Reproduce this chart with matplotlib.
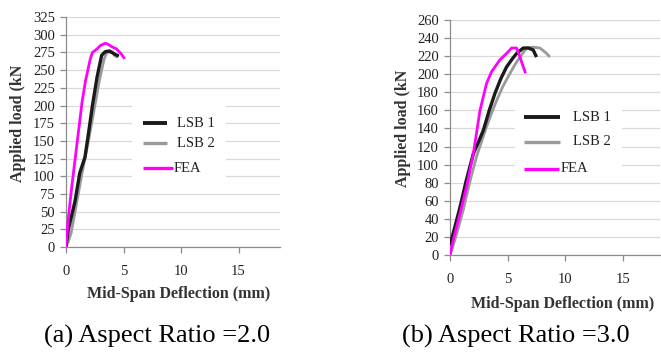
import numpy as np
import matplotlib.pyplot as plt
from matplotlib.patches import Rectangle

plt.rcParams['font.family'] = ['Liberation Serif', 'DejaVu Serif']

# (a) Aspect ratio 2.0
a_lsb1_x = [0.0, 0.2, 0.5, 0.8, 1.2, 1.65, 1.95, 2.3, 2.7, 3.1, 3.4, 3.7, 4.0, 4.3, 4.6]
a_lsb1_y = [0, 25, 45, 66, 105, 127, 160, 200, 240, 271, 276, 277, 275, 272, 270]
a_lsb2_x = [0.0, 0.2, 0.45, 0.9, 1.4, 1.9, 2.4, 2.9, 3.3, 3.5, 3.8, 4.0, 4.2, 4.5]
a_lsb2_y = [0, 8, 20, 60, 105, 145, 190, 235, 265, 273, 278, 276, 271, 268]
a_fea_x = [0.0, 0.2, 0.5, 0.8, 1.1, 1.4, 1.7, 2.1, 2.3, 2.7, 3.0, 3.4, 3.6, 4.0, 4.4, 4.8, 5.1]
a_fea_y = [0, 40, 85, 125, 165, 205, 235, 265, 275, 280, 285, 288, 287, 283, 280, 273, 266]

# (b) Aspect ratio 3.0
b_lsb1_x = [0.0, 0.4, 0.87, 1.4, 2.02, 2.5, 2.89, 3.4, 3.9, 4.4, 4.9, 5.4, 5.77, 6.35, 6.78, 7.2, 7.5]
b_lsb1_y = [11, 30, 53, 82, 112, 126, 138, 160, 179, 195, 208, 217, 223, 229, 229, 227, 219]
b_lsb2_x = [0.0, 0.5, 1.15, 1.7, 2.3, 2.8, 3.17, 3.6, 4.04, 4.6, 5.2, 5.6, 6.06, 6.64, 7.2, 7.79, 8.37, 8.66]
b_lsb2_y = [0, 20, 50, 80, 109, 128, 142, 157, 171, 187, 201, 210, 219, 229, 230, 229, 223, 219]
b_fea_x = [0.0, 0.29, 0.87, 1.44, 2.02, 2.6, 3.17, 3.61, 4.33, 4.9, 5.34, 5.77, 6.06, 6.3, 6.55]
b_fea_y = [0, 17, 46, 76, 112, 160, 190, 203, 216, 223, 229, 229, 219, 210, 201]

series_names = ['LSB 1', 'LSB 2', 'FEA']
colors = ['#1a1a1a', '#9a9a9a', '#ff00ff']
widths = [2.4, 2.0, 2.0]

fig = plt.figure(figsize=(6.61, 3.54), dpi=100)
ax1 = fig.add_axes([0.0998, 0.302, 0.3238, 0.6497])
ax2 = fig.add_axes([0.6808, 0.2797, 0.3177, 0.6638])

# legend layout in axes fractions: box, line spans, text x, row y
legs = [
    dict(box=(0.31, 0.29, 0.44, 0.36),
         lines=[(0.36, 0.472), (0.36, 0.472), (0.36, 0.50)],
         tx=[0.519, 0.519, 0.505], ty=[0.539, 0.452, 0.343]),
    dict(box=(0.31, 0.32, 0.51, 0.36),
         lines=[(0.352, 0.524), (0.352, 0.524), (0.352, 0.52)],
         tx=[0.586, 0.586, 0.529], ty=[0.587, 0.481, 0.366]),
]

panels = [
    (ax1, [(a_lsb1_x, a_lsb1_y), (a_lsb2_x, a_lsb2_y), (a_fea_x, a_fea_y)], 325, 25, 18.6,
     (-0.187, 0.54), (0.526, -0.17), legs[0]),
    (ax2, [(b_lsb1_x, b_lsb1_y), (b_lsb2_x, b_lsb2_y), (b_fea_x, b_fea_y)], 260, 20, 18.2,
     (-0.186, 0.54), (0.538, -0.174), legs[1]),
]

for ax, data, ymax, ystep, xmax, ylpos, xlpos, lg in panels:
    for (x, y), c, w, z in zip(data, colors, widths, [4, 3, 5]):
        ax.plot(x, y, color=c, lw=w, zorder=z, solid_capstyle='butt')
    ax.set_xlim(0, xmax)
    ax.set_ylim(0, ymax)
    ax.set_xticks([0, 5, 10, 15])
    ax.set_yticks(np.arange(0, ymax + 1, ystep))
    ax.grid(axis='y', color='#d9d9d9', lw=0.9)
    ax.set_axisbelow(True)
    for s in ['top', 'right']:
        ax.spines[s].set_visible(False)
    for s in ['left', 'bottom']:
        ax.spines[s].set_color('#8c8c8c')
        ax.spines[s].set_linewidth(0.9)
    ax.tick_params(colors='#8c8c8c', length=4, width=0.9, labelsize=10.5,
                   labelcolor='#222222')
    ax.tick_params(axis='y', pad=4)
    ax.tick_params(axis='x', pad=9)
    ax.set_ylabel('Applied load (kN', fontsize=11.5, fontweight='bold', color='#333333')
    ax.set_xlabel('Mid-Span Deflection (mm)', fontsize=11.5, fontweight='bold', color='#333333')
    ax.yaxis.set_label_coords(*ylpos)
    ax.xaxis.set_label_coords(*xlpos)

    # legend drawn by hand to follow the original layout
    bx, by, bw, bh = lg['box']
    ax.add_patch(Rectangle((bx, by), bw, bh, transform=ax.transAxes,
                           facecolor='white', edgecolor='none', zorder=2))
    for name, c, w, (x0, x1), tx, ty in zip(series_names, colors, widths,
                                            lg['lines'], lg['tx'], lg['ty']):
        ax.plot([x0, x1], [ty, ty], transform=ax.transAxes, color=c, lw=w + 0.4,
                solid_capstyle='butt', zorder=6)
        ax.text(tx, ty, name, transform=ax.transAxes, fontsize=10.5,
                color='#222222', va='center', ha='left', zorder=6)

fig.text(0.238, 0.031, '(a) Aspect Ratio =2.0', fontsize=19, ha='center', va='baseline')
fig.text(0.781, 0.031, '(b) Aspect Ratio =3.0', fontsize=19, ha='center', va='baseline')

fig.savefig('out.png', dpi=100)
